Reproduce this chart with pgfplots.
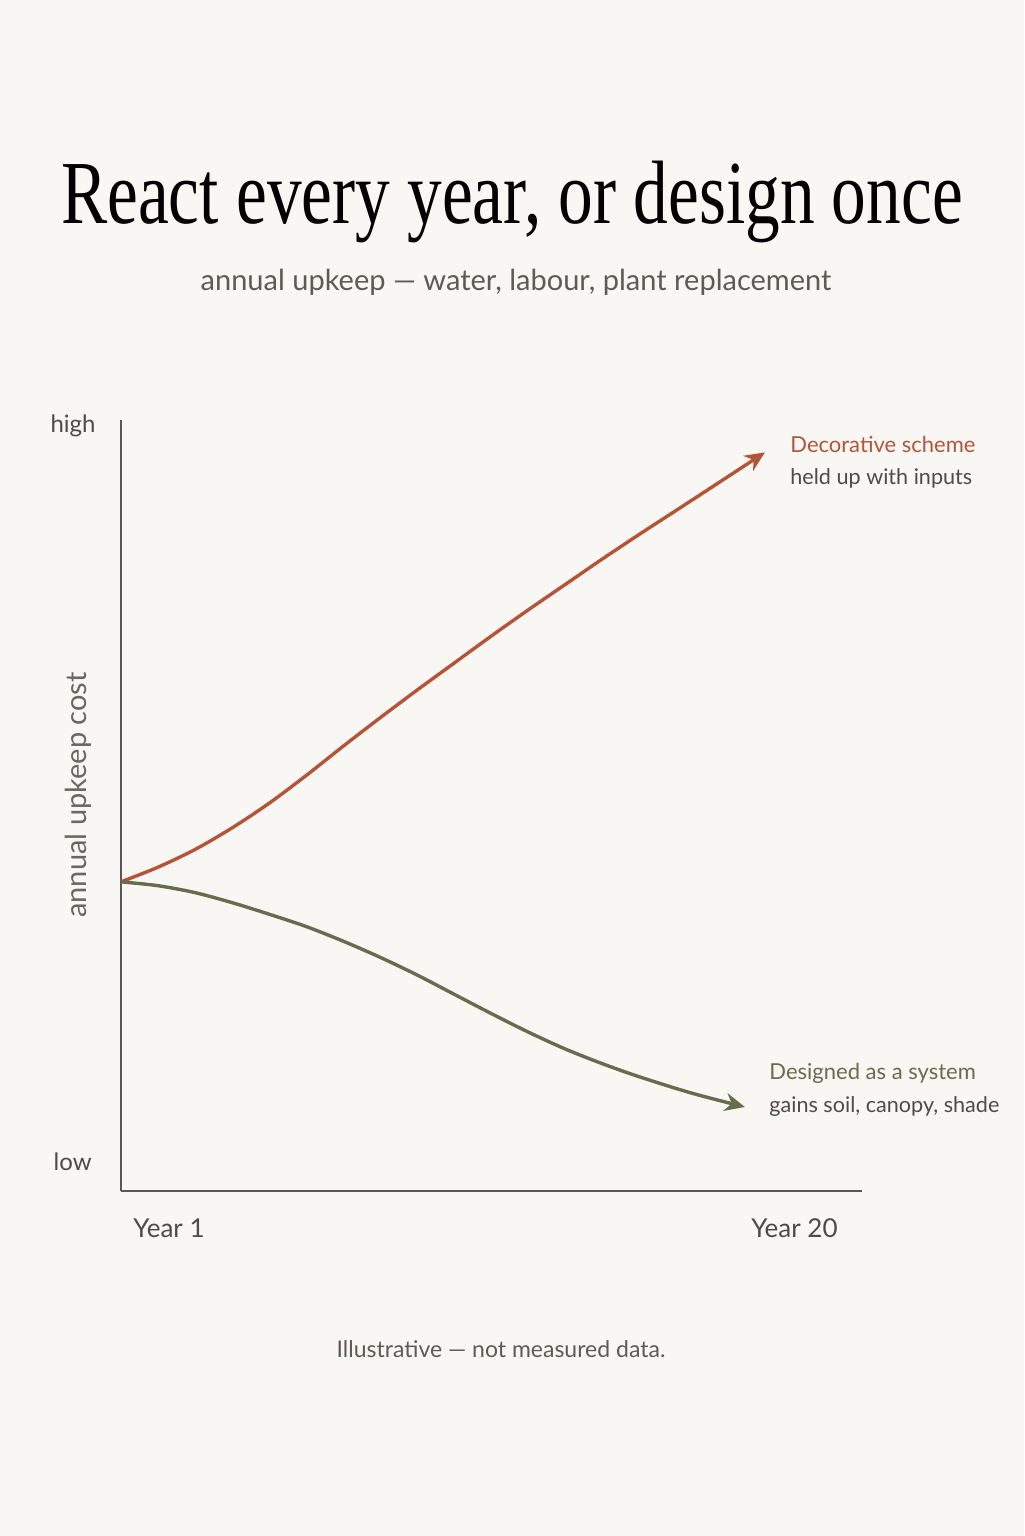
\documentclass[border=0pt]{standalone}
\usepackage{pgfplots}
\pgfplotsset{compat=1.18}
\usetikzlibrary{arrows.meta}
\usepackage{fontspec}
\setmainfont{Lato}
\newfontfamily\titlefont[FakeStretch=0.77]{Liberation Serif}

\definecolor{bg}{HTML}{F8F7F3}
\definecolor{rust}{HTML}{B4553A}
\definecolor{moss}{HTML}{656E4C}
\definecolor{axisgray}{HTML}{5A5753}
\definecolor{textgray}{HTML}{4E4B48}
\definecolor{subgray}{HTML}{5E5B57}
\definecolor{lightgray}{HTML}{6A6662}

\begin{document}
\begin{tikzpicture}
% page in pixel units, y downwards
\begin{scope}[x=0.5pt,y=-0.5pt,every node/.style={inner sep=0pt}]
  \fill[bg] (0,0) rectangle (1024,1536);
  \node[anchor=base] at (512,223) {\titlefont\fontsize{45}{50}\selectfont React every year, or design once};
  \node[anchor=base,text=subgray] at (516,290) {\fontsize{14.5}{16}\selectfont annual upkeep — water, labour, plant replacement};
  \node[anchor=base east,text=textgray] at (96,432) {\fontsize{12}{14}\selectfont high};
  \node[anchor=base east,text=textgray] at (92,1170) {\fontsize{12}{14}\selectfont low};
  \node[rotate=90,text=lightgray] at (78,795) {\fontsize{14.5}{16}\selectfont annual upkeep cost};
  \node[anchor=base west,text=textgray] at (133,1237) {\fontsize{13}{15}\selectfont Year 1};
  \node[anchor=base east,text=textgray] at (838,1237) {\fontsize{13}{15}\selectfont Year 20};
  \node[anchor=base west,text=rust] at (790,452) {\fontsize{11}{13}\selectfont Decorative scheme};
  \node[anchor=base west,text=textgray] at (790,484) {\fontsize{10.8}{13}\selectfont held up with inputs};
  \node[anchor=base west,text=moss] at (769,1079) {\fontsize{11}{13}\selectfont Designed as a system};
  \node[anchor=base west,text=textgray] at (769,1112) {\fontsize{10.8}{13}\selectfont gains soil, canopy, shade};
  \node[anchor=base,text=subgray] at (501,1357) {\fontsize{11.5}{13}\selectfont Illustrative — not measured data.};
\end{scope}

\begin{axis}[
  at={(60.5pt,-595.5pt)}, anchor=origin,
  scale only axis, width=370.5pt, height=385.5pt,
  xmin=0, xmax=100, ymin=0, ymax=100,
  axis lines=left, axis line style={-, axisgray, line width=1.4pt},
  xtick=\empty, ytick=\empty,
  clip=false,
]
% decorative scheme: upkeep keeps rising
\addplot[rust, line width=1.7pt, smooth, -{Stealth[length=10pt,width=9pt]}] coordinates {
  (0,40.1) (5,42.0) (10,44.3) (15,47.1) (20,50.3) (25,53.9) (30,57.7)
  (35,61.4) (40,65.0) (45,68.5) (50,72.0) (55,75.4) (60,78.7) (65,82.0)
  (70,85.2) (78,90.2) (86.9,95.8)
};
% designed system: upkeep falls away
\addplot[moss, line width=1.7pt, smooth, -{Stealth[length=10pt,width=9pt]}] coordinates {
  (0,40.1) (5,39.6) (10,38.7) (15,37.4) (20,35.9) (25,34.3) (30,32.4)
  (35,30.3) (40,28.0) (45,25.5) (50,23.0) (55,20.6) (60,18.4) (65,16.5)
  (70,14.8) (77,12.7) (84.2,10.9)
};
\end{axis}
\end{tikzpicture}
\end{document}
